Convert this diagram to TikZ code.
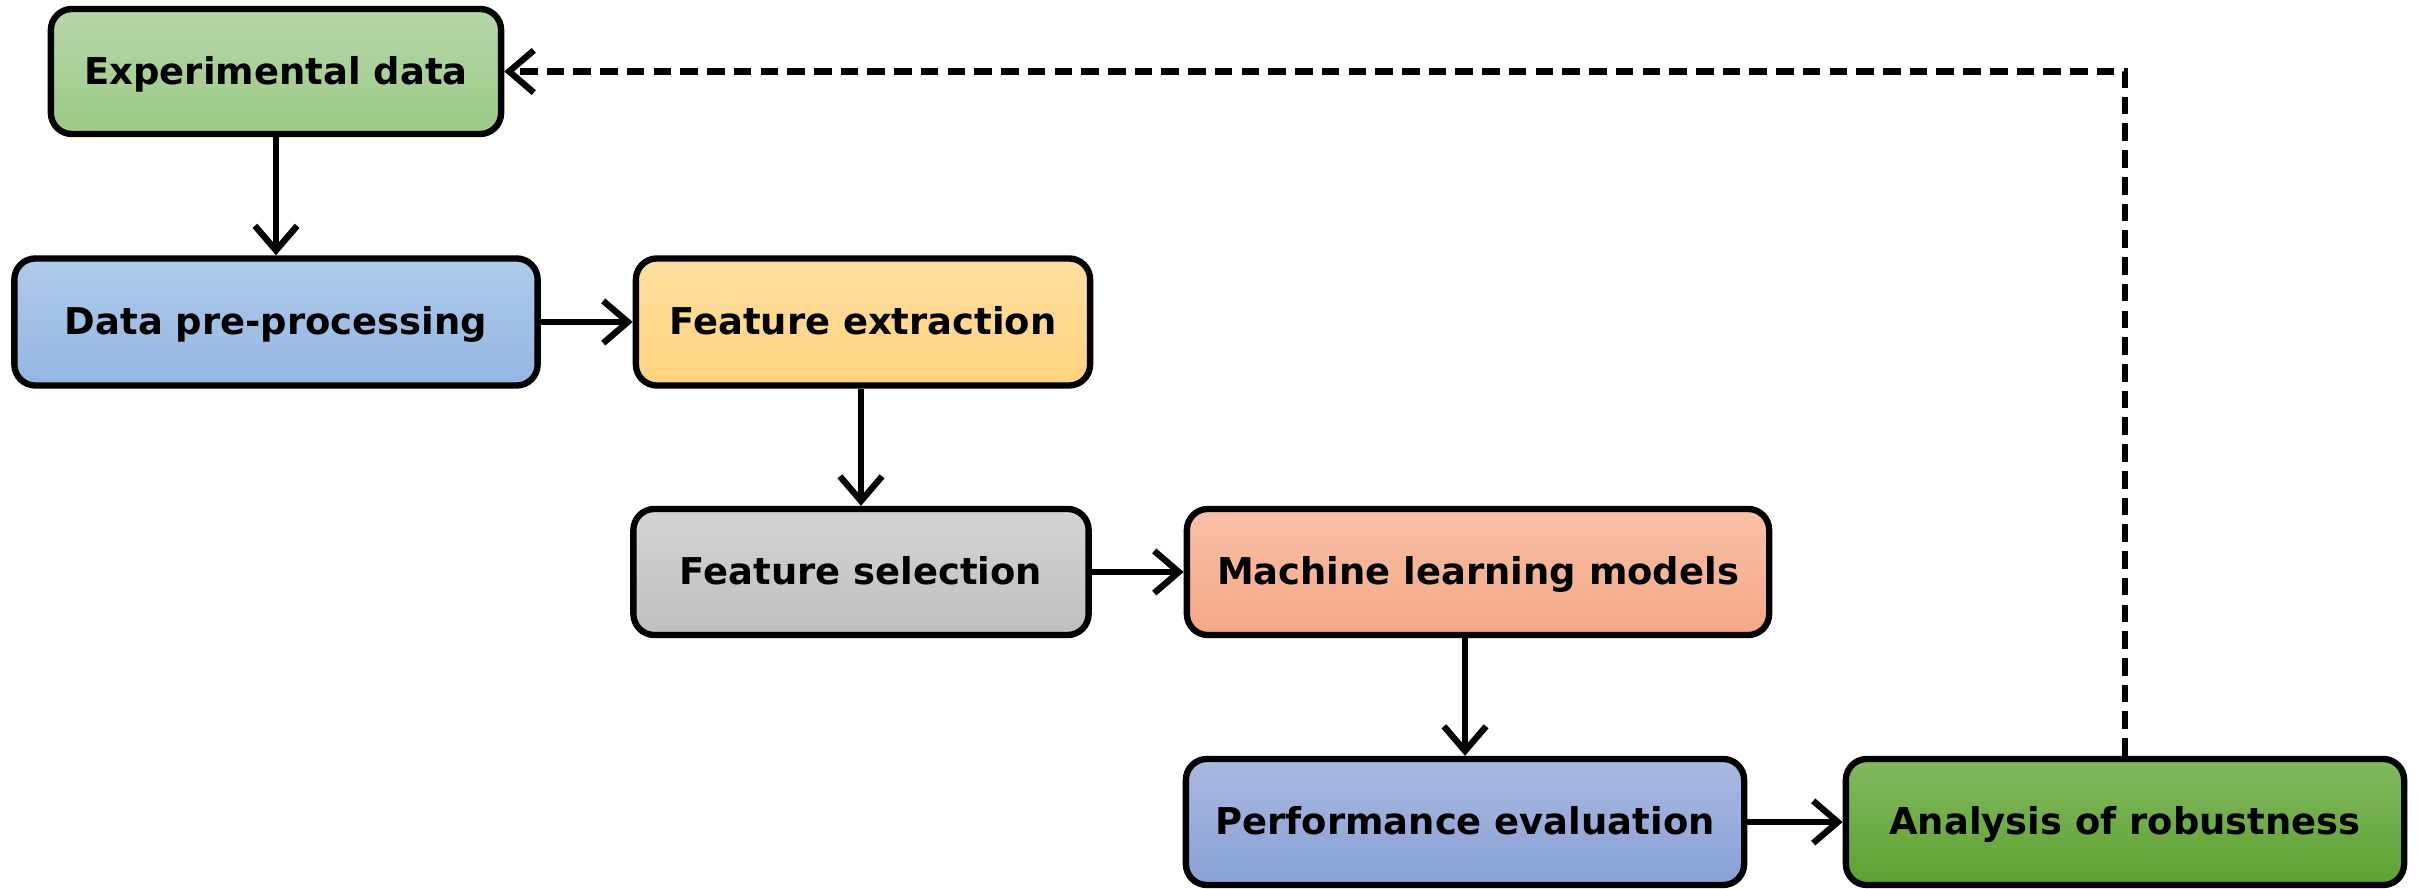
\documentclass[tikz,border=0pt]{standalone}
\usepackage{fontspec}
\setmainfont{DejaVu Sans}
\usetikzlibrary{arrows.meta}
\definecolor{gAt}{HTML}{B6D6A9}\definecolor{gAb}{HTML}{9CCA85}
\definecolor{bAt}{HTML}{B0CAEA}\definecolor{bAb}{HTML}{93B6E2}
\definecolor{yAt}{HTML}{FFDE9F}\definecolor{yAb}{HTML}{FFD47E}
\definecolor{sAt}{HTML}{D4D4D4}\definecolor{sAb}{HTML}{BFBFBF}
\definecolor{oAt}{HTML}{F8C1A8}\definecolor{oAb}{HTML}{F5A785}
\definecolor{pAt}{HTML}{AAB8E1}\definecolor{pAb}{HTML}{88A1D6}
\definecolor{dAt}{HTML}{82BA60}\definecolor{dAb}{HTML}{5DA131}
\tikzset{
  procbox/.style={draw=black, line width=1.8pt, rounded corners=6pt,
    inner sep=0pt, text height=0.73em, text depth=0pt,
    font=\fontsize{10.5}{12}\selectfont\bfseries, text=black},
  flow/.style={line width=1.8pt, -{Straight Barb[length=7pt,width=12pt,line width=1.8pt]}},
  backflow/.style={flow, dash pattern=on 5pt off 2.6pt}
}
\begin{document}
\begin{tikzpicture}[x=0.01cm,y=-0.01cm]
\useasboundingbox (0,0) rectangle (2418,889);
\node[procbox, minimum width=4.5cm, minimum height=1.25cm, top color=gAt, bottom color=gAb] (exp) at (276,71.5) {Experimental data};
\node[procbox, minimum width=5.23cm, minimum height=1.27cm, top color=bAt, bottom color=bAb] (dpp) at (276,322) {Data pre-processing};
\node[procbox, minimum width=4.54cm, minimum height=1.27cm, top color=yAt, bottom color=yAb] (fe) at (863,322) {Feature extraction};
\node[procbox, minimum width=4.55cm, minimum height=1.26cm, top color=sAt, bottom color=sAb] (fs) at (861,572) {Feature selection};
\node[procbox, minimum width=5.82cm, minimum height=1.26cm, top color=oAt, bottom color=oAb] (ml) at (1478,572) {Machine learning models};
\node[procbox, minimum width=5.58cm, minimum height=1.26cm, top color=pAt, bottom color=pAb] (pe) at (1465,822) {Performance evaluation};
\node[procbox, minimum width=5.58cm, minimum height=1.26cm, top color=dAt, bottom color=dAb] (ar) at (2125,822) {Analysis of robustness};
\draw[flow] (exp) -- (dpp);
\draw[flow] (dpp) -- (fe);
\draw[flow] (fs.north |- fe.south) -- (fs.north);
\draw[flow] (fs) -- (ml);
\draw[flow] (pe.north |- ml.south) -- (pe.north);
\draw[flow] (pe) -- (ar);
\draw[backflow] (ar.north) |- (exp.east);
\end{tikzpicture}
\end{document}
